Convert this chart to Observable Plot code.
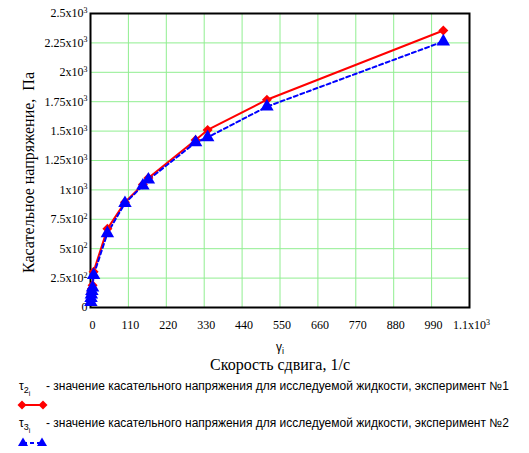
<!DOCTYPE html>
<html>
<head>
<meta charset="utf-8">
<script src="https://cdn.jsdelivr.net/npm/d3@7"></script>
<script src="https://cdn.jsdelivr.net/npm/@observablehq/plot@0.6"></script>
<style>
  body { margin: 0; background: white; }
  #wrap { width: 529px; height: 453px; position: relative; background: white; overflow: hidden; }
  #legend { position: absolute; left: 0; top: 376px; width: 529px; height: 77px; font-family: "Liberation Sans", Arial, sans-serif; font-size: 12px; color: #000; }
  .row { position: absolute; left: 19px; white-space: nowrap; }
  .tau { font-family: "Liberation Sans", Arial, sans-serif; font-size: 12px; display: inline-block; width: 27px; }
  .tau sub { font-size: 9px; }
  .tau sub sub { font-size: 7px; }
  .sw { position: absolute; left: 16px; }
</style>
</head>
<body>
<div id="wrap">
  <div id="chart"></div>
  <div id="legend"></div>
</div>
<script>
// shear rate (1/s)
const gamma = [1, 1.5, 2.5, 4, 6, 9, 49, 100, 152, 168, 305, 340, 512, 1024];
// shear stress, experiment 1 (Pa)
const tau2 = [60, 95, 130, 160, 190, 305, 669, 895, 1045, 1102, 1425, 1510, 1767, 2355];
// shear stress, experiment 2 (Pa)
const tau3 = [45, 80, 110, 140, 170, 275, 631, 887, 1036, 1087, 1404, 1447, 1708, 2262];

const xTicks = [0, 110, 220, 330, 440, 550, 660, 770, 880, 990, 1100];
const yTicks = [0, 250, 500, 750, 1000, 1250, 1500, 1750, 2000, 2250, 2500];

const yLabel = "Касательное напряжение,  Па";
const xVar = "γi";
const xLabel = "Скорость сдвига, 1/с";
const legend1 = "- значение касательного напряжения для исследуемой жидкости, эксперимент №1";
const legend2 = "- значение касательного напряжения для исследуемой жидкости, эксперимент №2";

const s1 = gamma.map((g, i) => ({g, t: tau2[i]}));
const s2 = gamma.map((g, i) => ({g, t: tau3[i]}));

function fmtY(d) {
  if (d === 0) return "0";
  if (d < 1000) return (d / 100) + "x10^2";
  return (d / 1000) + "x10^3";
}
function fmtX(d) {
  if (d >= 1000) return (d / 1000) + "x10^3";
  return String(d);
}

const serif = "'Liberation Serif', 'Times New Roman', serif";
const sans = "'Liberation Sans', Arial, sans-serif";
const green = "#90ee90";

const chart = Plot.plot({
  width: 529,
  height: 376,
  marginLeft: 90,
  marginRight: 60,
  marginTop: 13,
  marginBottom: 69,
  x: {domain: [0, 1100]},
  y: {domain: [0, 2500]},
  style: {fontFamily: serif, fontSize: "12px", color: "black", background: "white", overflow: "visible"},
  marks: [
    Plot.gridX(xTicks, {stroke: green, strokeOpacity: 1, strokeWidth: 1}),
    Plot.gridY(yTicks, {stroke: green, strokeOpacity: 1, strokeWidth: 1}),
    Plot.axisX(xTicks, {tickSize: 0, tickPadding: 13, tickFormat: fmtX, label: null, dx: 2, fontFamily: serif, fontSize: 12}),
    Plot.axisY(yTicks, {tickSize: 0, tickPadding: 3, tickFormat: fmtY, label: null, fontFamily: serif, fontSize: 12}),
    Plot.frame({stroke: "black", strokeWidth: 2}),
    Plot.line(s1, {x: "g", y: "t", stroke: "red", strokeWidth: 2}),
    Plot.line(s2, {x: "g", y: "t", stroke: "blue", strokeWidth: 2, strokeDasharray: "4,3"}),
    Plot.dot(s1, {x: "g", y: "t", symbol: "diamond2", fill: "red", stroke: "none", r: 4.5}),
    Plot.dot(s2, {x: "g", y: "t", symbol: "triangle", fill: "blue", stroke: "none", r: 5}),
    Plot.text([yLabel], {frameAnchor: "left", textAnchor: "middle", lineAnchor: "middle", rotate: -90, dx: -62, dy: 12, fontSize: 16, fill: "black", fontFamily: serif}),
    Plot.text([xVar], {frameAnchor: "bottom", textAnchor: "middle", lineAnchor: "middle", dy: 40, fontSize: 12, fill: "black", fontFamily: sans}),
    Plot.text([xLabel], {frameAnchor: "bottom", textAnchor: "middle", lineAnchor: "middle", dy: 57, fontSize: 16, fill: "black", fontFamily: serif})
  ]
});
document.getElementById("chart").appendChild(chart);

// superscripts / subscripts as real text
chart.querySelectorAll("text").forEach(t => {
  const s = t.textContent;
  const m = s.match(/^(.*x10)\^(\d)$/);
  if (s === xVar) {
    t.style.fontFamily = sans;
    t.textContent = "γ";
    const sp = document.createElementNS("http://www.w3.org/2000/svg", "tspan");
    sp.setAttribute("dy", "0.3em");
    sp.setAttribute("font-size", "9px");
    sp.textContent = "i";
    t.appendChild(sp);
    return;
  }
  t.style.fontFamily = serif;
  if (m) {
    t.textContent = m[1];
    const sp = document.createElementNS("http://www.w3.org/2000/svg", "tspan");
    sp.setAttribute("dy", "-0.55em");
    sp.setAttribute("font-size", "8px");
    sp.textContent = m[2];
    t.appendChild(sp);
  }
});

// legend
const lg = document.getElementById("legend");
lg.innerHTML = `
  <div class="row" style="top:3px"><span class="tau">τ<sub>2<sub>i</sub></sub></span>${legend1}</div>
  <svg class="sw" style="top:22px" width="34" height="14">
    <line x1="6" y1="7" x2="27" y2="7" stroke="red" stroke-width="2"/>
    <path d="M6,2.5L10.5,7L6,11.5L1.5,7Z" fill="red"/>
    <path d="M27,2.5L31.5,7L27,11.5L22.5,7Z" fill="red"/>
  </svg>
  <div class="row" style="top:40px"><span class="tau">τ<sub>3<sub>i</sub></sub></span>${legend2}</div>
  <svg class="sw" style="top:59px" width="34" height="14">
    <line x1="7" y1="8" x2="26" y2="8" stroke="blue" stroke-width="2" stroke-dasharray="4,3"/>
    <path d="M7,2.5L12,11L2,11Z" fill="blue"/>
    <path d="M26,2.5L31,11L21,11Z" fill="blue"/>
  </svg>`;
</script>
</body>
</html>
